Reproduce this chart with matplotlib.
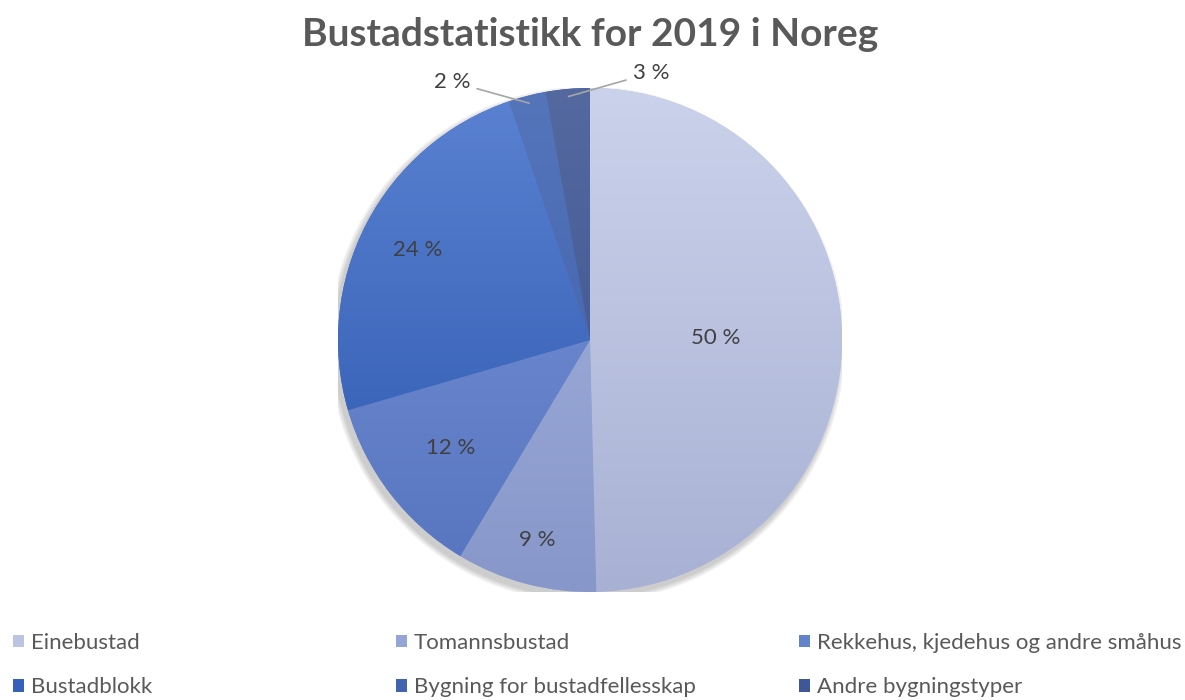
import matplotlib.pyplot as plt
import matplotlib.colors as mcolors
from matplotlib.patches import Circle, Rectangle
import numpy as np

plt.rcParams['font.family'] = ['Lato', 'DejaVu Sans']

# data
categories = ['Einebustad', 'Tomannsbustad', 'Rekkehus, kjedehus og andre småhus',
              'Bustadblokk', 'Bygning for bustadfellesskap', 'Andre bygningstyper']
shares = [49.6, 9.0, 11.9, 24.3, 2.4, 2.8]

# gradient colours (top, bottom) per slice
top_colors = ['#cbd2eb', '#a6b5df', '#7996d9', '#5b82d2', '#5575bb', '#54699f']
bot_colors = ['#a8b1d4', '#8797ca', '#5673bf', '#2a56ad', '#3a5ca8', '#36508f']
mid_colors = ['#bcc4e4', '#94a6d6', '#6383cb', '#3561bd', '#4264b0', '#3e5799']

label_r = [0.50, 0.82, 0.70, 0.77]

fig = plt.figure(figsize=(11.85, 7), dpi=100)
ax = fig.add_axes([338/1185, 108/700, 504/1185, 504/700])

# soft shadow
for i in range(4):
    ax.add_patch(Circle((-0.012, -0.018), 1.0 + 0.006*(4-i), color='black',
                        alpha=0.05, lw=0, zorder=0))

wedges, texts, autotexts = ax.pie(shares, colors=mid_colors, startangle=90,
                                  counterclock=False, autopct='%.0f %%',
                                  pctdistance=0.75,
                                  wedgeprops=dict(linewidth=0, zorder=1),
                                  textprops=dict(fontsize=16, color='#404040'))
ax.set_xlim(-1, 1)
ax.set_ylim(-1, 1)

grad_y = np.linspace(1, 0, 256)[:, None]
for w, c1, c2 in zip(wedges, top_colors, bot_colors):
    cmap = mcolors.LinearSegmentedColormap.from_list('g', [c2, c1])
    im = ax.imshow(np.repeat(grad_y, 2, axis=1), cmap=cmap, extent=(-1, 1, -1, 1),
                   aspect='auto', zorder=2, interpolation='bilinear', vmin=0, vmax=1)
    im.set_clip_path(w)

for i, (w, t) in enumerate(zip(wedges, autotexts)):
    t.set_zorder(5)
    ang = np.deg2rad((w.theta1 + w.theta2) / 2)
    if i < 4:
        t.set_position((label_r[i]*np.cos(ang), label_r[i]*np.sin(ang)))
    else:
        t.set_visible(False)

# outside labels with leader lines
for i, txt_xy in [(4, (-0.475, 1.025)), (5, (0.17, 1.06))]:
    w = wedges[i]
    ang = np.deg2rad((w.theta1 + w.theta2) / 2)
    edge = (0.97*np.cos(ang), 0.97*np.sin(ang))
    ha = 'right' if txt_xy[0] < 0 else 'left'
    ax.annotate(autotexts[i].get_text(), xy=edge, xytext=txt_xy, ha=ha, va='center',
                fontsize=16, color='#404040', zorder=6, annotation_clip=False,
                arrowprops=dict(arrowstyle='-', color='#a6a6a6', lw=1.2,
                                shrinkA=3, shrinkB=0))

fig.text(590/1185, 1 - 35/700, 'Bustadstatistikk for 2019 i Noreg', ha='center',
         va='center', fontsize=28, fontweight='bold', color='#595959')

# legend, row-wise in three columns
col_x = [13, 396, 799]
for c in range(3):
    hs = []
    for r in range(2):
        k = r*3 + c
        hs.append(Rectangle((0, 0), 1, 1, facecolor=mid_colors[k], lw=0))
    labs = [categories[c], categories[c + 3]]
    fig.legend(hs, labs, loc='center left', bbox_to_anchor=(col_x[c]/1185, 1 - 665/700),
               frameon=False, fontsize=16, labelcolor='#595959', handlelength=0.5,
               handleheight=0.5, handletextpad=0.3, labelspacing=1.1,
               borderpad=0, borderaxespad=0)

fig.savefig('out.png', dpi=100)
